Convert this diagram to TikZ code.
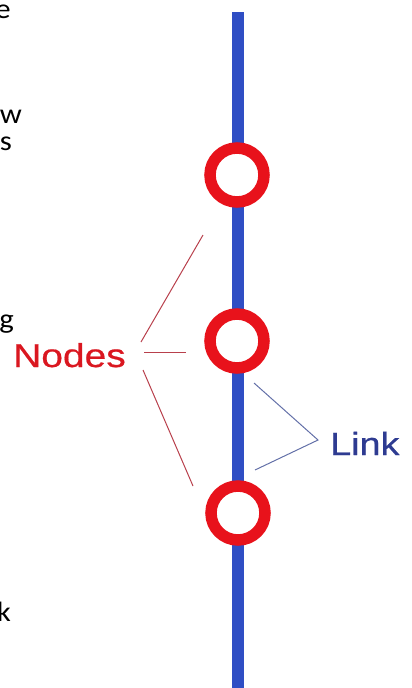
\documentclass[tikz,border=0pt]{standalone}
\usepackage{fontspec}
\newfontfamily\labelfont[FakeStretch=1.18,FakeBold=0.6]{Liberation Sans}
\newfontfamily\strayfont[FakeStretch=1.1]{Carlito}
\definecolor{ringred}{HTML}{E8121B}
\definecolor{lineblue}{HTML}{2F4EC4}
\definecolor{nodestext}{HTML}{DA1720}
\definecolor{linktext}{HTML}{2E3B91}
\definecolor{nodesline}{HTML}{B8404C}
\definecolor{linkline}{HTML}{6370A8}
\tikzset{
  ring/.style={circle, draw=ringred, line width=11.5pt, fill=white, minimum size=54pt, inner sep=0pt},
  mainline/.style={draw=lineblue, line width=12pt},
  nodesconn/.style={draw=nodesline, line width=1pt},
  linkconn/.style={draw=linkline, line width=1pt},
  stray/.style={anchor=base east, inner sep=0pt, font=\strayfont\fontsize{28}{32}\selectfont, text=black},
}
\begin{document}
\begin{tikzpicture}[x=1pt,y=-1pt]
\useasboundingbox (0,0) rectangle (412,688);
% main link line
\coordinate (top) at (238,12);
\coordinate (bot) at (238,688);
\draw[mainline] (top) -- (bot);
% nodes
\node[ring] (n1) at (237,175) {};
\node[ring] (n2) at (237,341) {};
\node[ring] (n3) at (238,513) {};
% labels
\node[anchor=base west, inner sep=0pt, text=nodestext, font=\labelfont\fontsize{33}{38}\selectfont] (nodes) at (13,367) {Nodes};
\node[anchor=base west, inner sep=0pt, text=linktext, font=\labelfont\fontsize{32}{38}\selectfont] (link) at (330,455) {Link};
% nodes connectors
\coordinate (na) at (141,342);
\coordinate (nb) at (203,235);
\coordinate (nc) at (144,352);
\coordinate (nd) at (186,352);
\coordinate (ne) at (143,370);
\coordinate (nf) at (193,486);
\draw[nodesconn] (na) -- (nb);
\draw[nodesconn] (nc) -- (nd);
\draw[nodesconn] (ne) -- (nf);
% link connectors
\coordinate (la) at (254,383);
\coordinate (lv) at (318,440);
\coordinate (lb) at (255,470);
\draw[linkconn] (la) -- (lv) -- (lb);
% stray partial letters at the left edge
\node[stray] (s1) at (11,18) {e};
\node[stray] (s2) at (22,123) {w};
\node[stray] (s3) at (12,150) {s};
\node[stray] (s4) at (14,328) {g};
\node[stray] (s5) at (11,621) {k};
\end{tikzpicture}
\end{document}
